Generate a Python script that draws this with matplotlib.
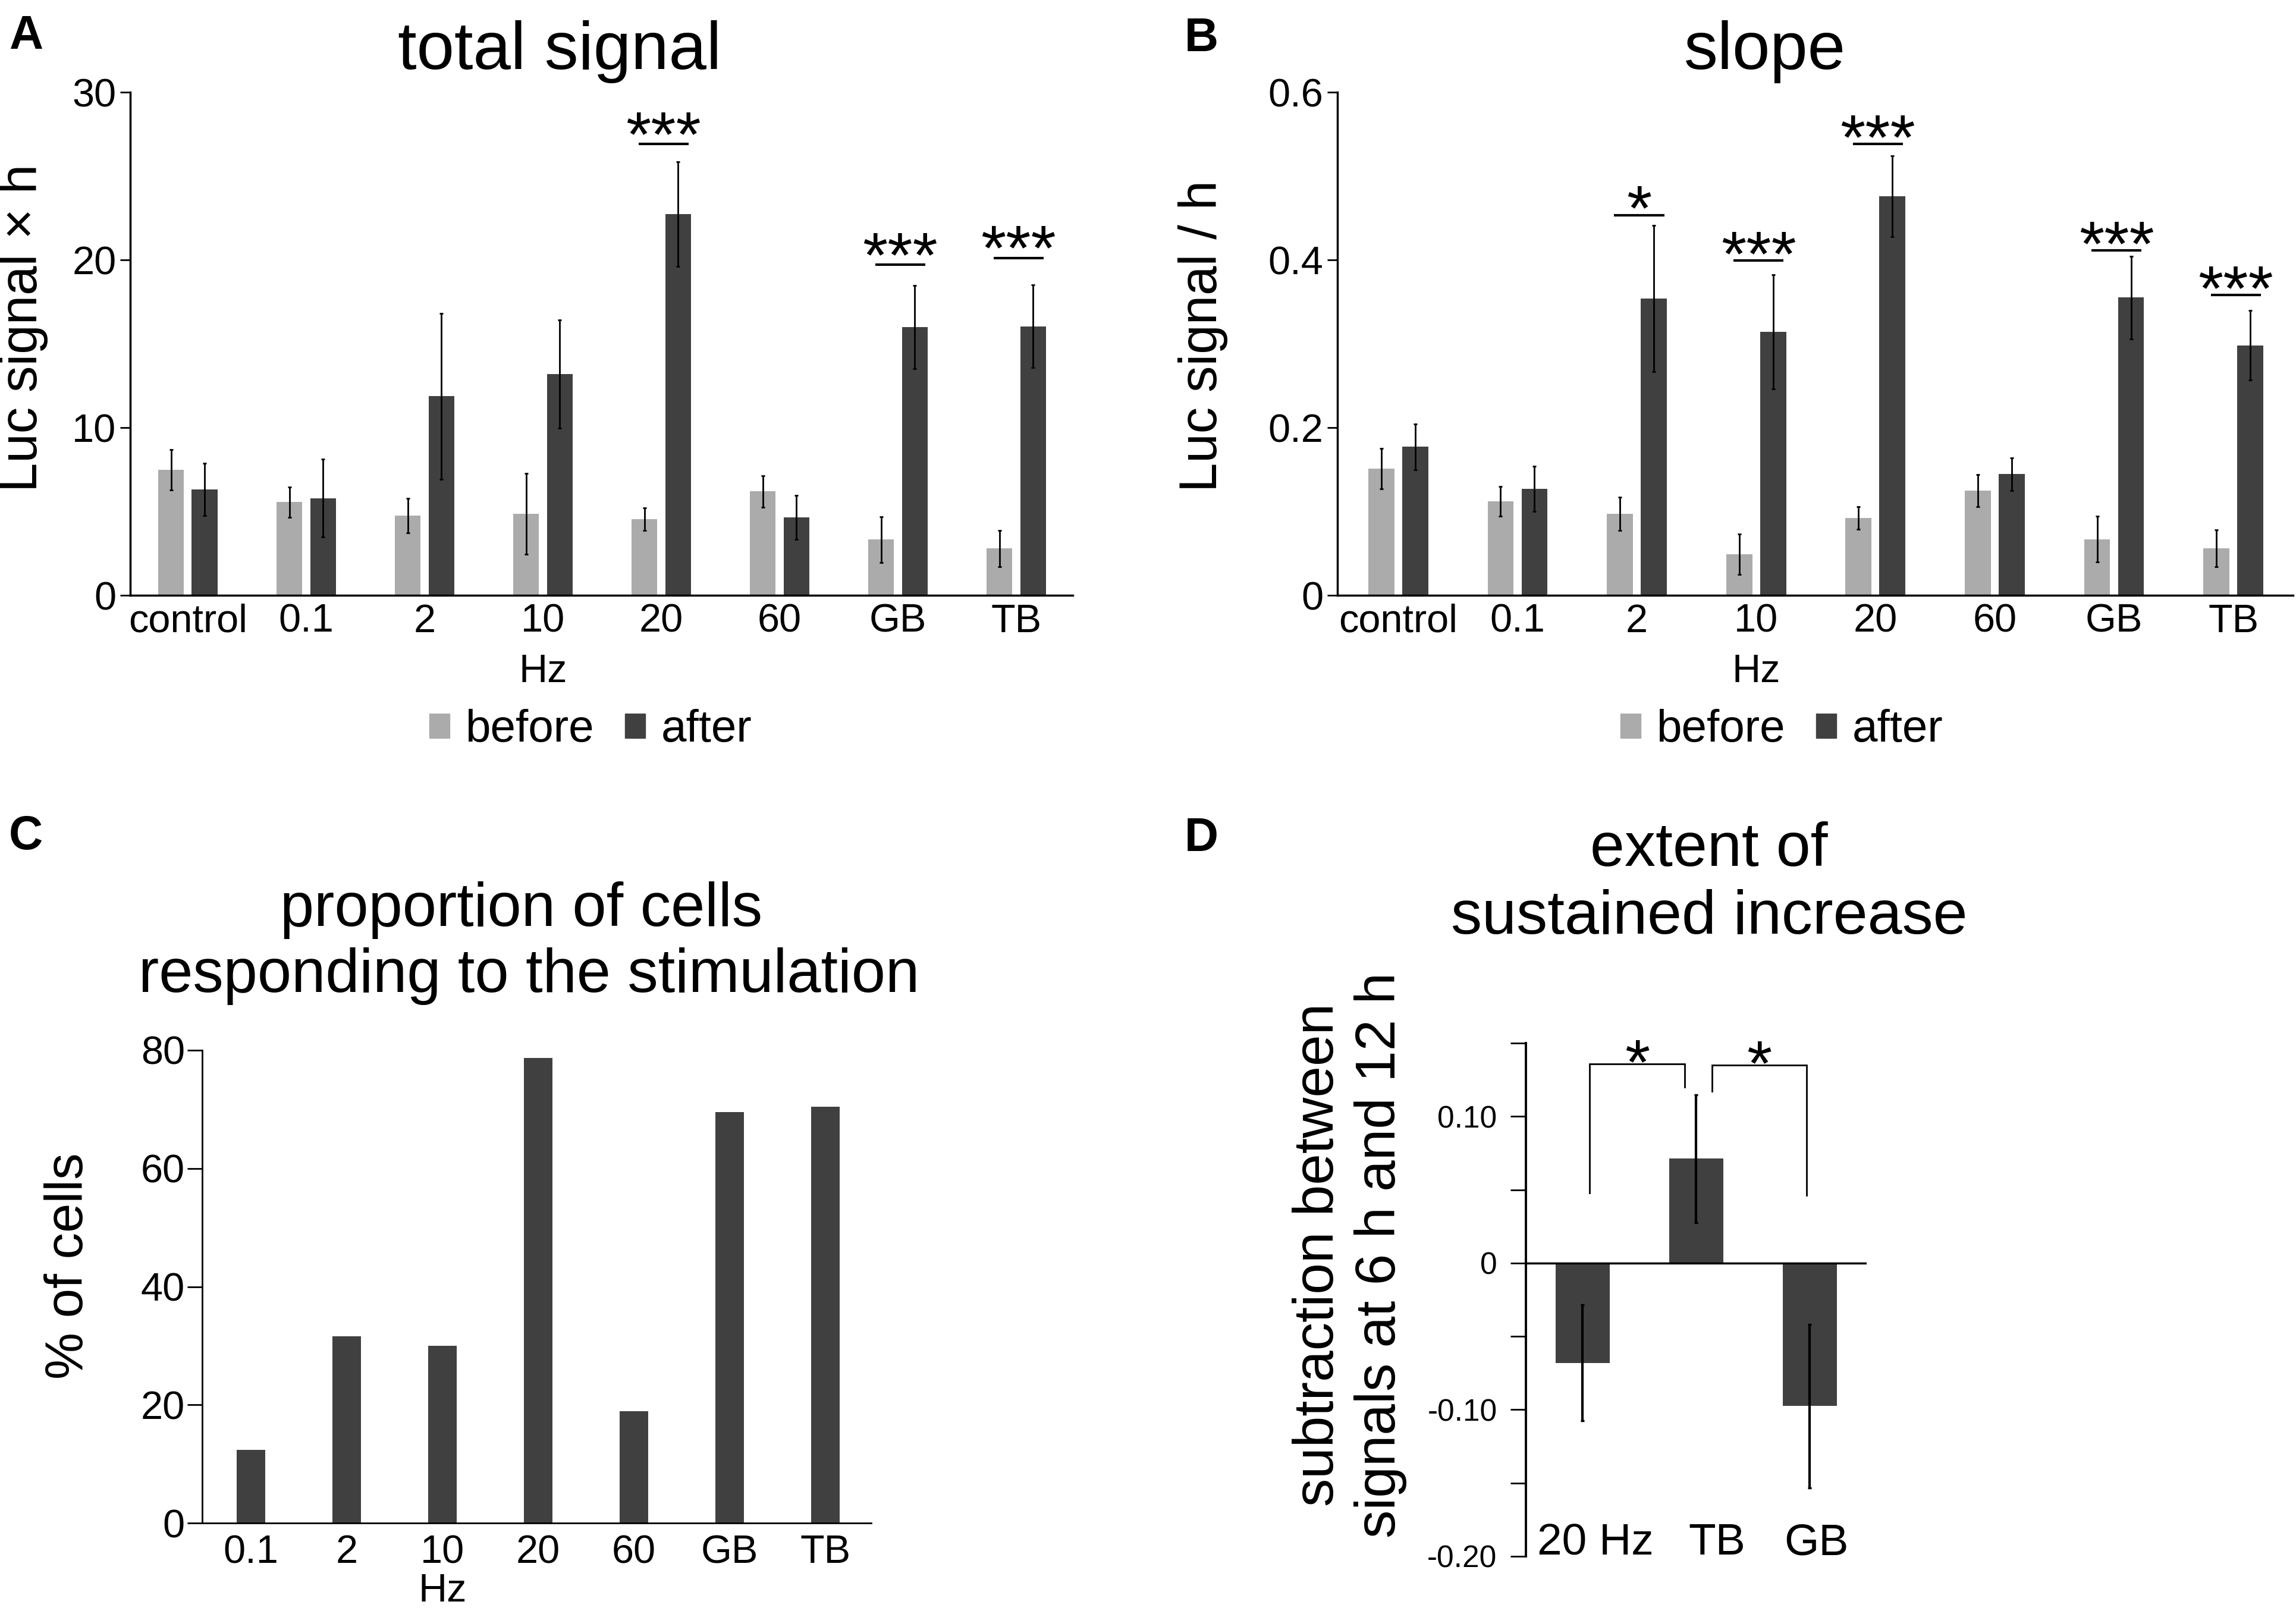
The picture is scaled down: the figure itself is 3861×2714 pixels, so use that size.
import matplotlib
matplotlib.use('Agg')
import matplotlib.pyplot as plt
from matplotlib.patches import Patch
from matplotlib.transforms import blended_transform_factory
from matplotlib.textpath import TextPath
from matplotlib.font_manager import FontProperties
import numpy as np

plt.rcParams['font.family'] = ['Liberation Sans', 'DejaVu Sans']

# ---------------- data ----------------
groups = ['control', '0.1', '2', '10', '20', '60', 'GB', 'TB']

total_before = [7.49, 5.55, 4.76, 4.85, 4.55, 6.20, 3.32, 2.79]
total_before_err = [1.20, 0.90, 1.03, 2.41, 0.68, 0.94, 1.37, 1.09]
total_after = [6.32, 5.79, 11.87, 13.19, 22.72, 4.64, 15.99, 16.04]
total_after_err = [1.57, 2.33, 4.94, 3.22, 3.12, 1.30, 2.47, 2.47]
total_sig_idx = [4, 6, 7]
total_sig_lab = ['***', '***', '***']
total_sig_y = [26.9, 19.7, 20.1]

slope_before = [0.151, 0.112, 0.097, 0.049, 0.092, 0.125, 0.067, 0.056]
slope_before_err = [0.024, 0.018, 0.020, 0.024, 0.0135, 0.019, 0.027, 0.022]
slope_after = [0.177, 0.127, 0.354, 0.314, 0.476, 0.1445, 0.355, 0.298]
slope_after_err = [0.027, 0.027, 0.087, 0.068, 0.048, 0.0195, 0.049, 0.0415]
slope_sig_idx = [2, 3, 4, 6, 7]
slope_sig_lab = ['*', '***', '***', '***', '***']
slope_sig_y = [0.4535, 0.399, 0.538, 0.411, 0.358]

prop_cats = ['0.1', '2', '10', '20', '60', 'GB', 'TB']
prop_vals = [12.4, 31.6, 30.0, 78.7, 18.9, 69.5, 70.4]

ext_cats = ['20 Hz', 'TB', 'GB']
ext_vals = [-0.068, 0.0713, -0.0975]
ext_err = [0.0397, 0.0436, 0.0557]

# ---------------- figure ----------------
W, H = 3862, 2714
fig = plt.figure(figsize=(W / 100, H / 100), dpi=100)


def fx(px):
    return px / W


def fy(py):
    return 1 - py / H


def rect(l, t, r, b):
    return [fx(l), fy(b), fx(r) - fx(l), fy(t) - fy(b)]


BEFORE = '#ababab'
AFTER = '#404040'
TICK_FS = 48
LABEL_FS = 64
TITLE_FS = 82
STAR_FS = 78
ekw = dict(ecolor='black', elinewidth=2.0, capsize=2, capthick=2.0)

# vertical centre of the asterisk glyph (in em) to place stars precisely
_bb = TextPath((0, 0), '*', size=1,
               prop=FontProperties(family='Liberation Sans')).get_extents()
STAR_CENTER_EM = (_bb.y0 + _bb.y1) / 2


def star_offset(center_above_pt, fs=STAR_FS):
    return center_above_pt - STAR_CENTER_EM * fs


def paired_panel(r, before, berr, after, aerr, ylim, yticks, yticklabels,
                 sig_idx, sig_lab, sig_y, xlim, star_gap):
    ax = fig.add_axes(r)
    x = np.arange(len(groups))
    off, w = 0.142, 0.218
    ax.bar(x - off, before, w, color=BEFORE, yerr=berr, error_kw=ekw)
    ax.bar(x + off, after, w, color=AFTER, yerr=aerr, error_kw=ekw)
    ax.set_xlim(*xlim)
    ax.set_ylim(*ylim)
    for s in ['top', 'right']:
        ax.spines[s].set_visible(False)
    for s in ['left', 'bottom']:
        ax.spines[s].set_linewidth(2.5)
    ax.set_xticks(x)
    ax.set_xticklabels(groups, fontsize=TICK_FS)
    ax.tick_params(axis='x', length=0, pad=10)
    ax.set_yticks(yticks)
    ax.set_yticklabels(yticklabels, fontsize=TICK_FS)
    ax.tick_params(axis='y', length=12, width=2, pad=5)
    for i, lab, yv in zip(sig_idx, sig_lab, sig_y):
        ax.plot([i - 0.19, i + 0.23], [yv, yv], color='black', lw=3,
                solid_capstyle='butt')
        ax.annotate(lab, (i + 0.02, yv), xytext=(0, star_offset(star_gap)),
                    textcoords='offset points', ha='center', va='baseline',
                    fontsize=STAR_FS)
    tr = blended_transform_factory(ax.transData, ax.transAxes)
    ax.text(3, -0.152, 'Hz', transform=tr, ha='center', va='center',
            fontsize=TICK_FS)
    return ax


# Panel A
axA = paired_panel(rect(219, 155, 1804, 1001), total_before, total_before_err,
                   total_after, total_after_err, (0, 30), [0, 10, 20, 30],
                   ['0', '10', '20', '30'], total_sig_idx, total_sig_lab,
                   total_sig_y, (-0.487, 7.477), 26)
# Panel B
axB = paired_panel(rect(2249, 155, 3856, 1001), slope_before, slope_before_err,
                   slope_after, slope_after_err, (0, 0.6), [0, 0.2, 0.4, 0.6],
                   ['0', '0.2', '0.4', '0.6'], slope_sig_idx, slope_sig_lab,
                   slope_sig_y, (-0.51, 7.5), 22)

# Panel C
axC = fig.add_axes(rect(340, 1766, 1465, 2561))
xc = np.arange(len(prop_cats))
axC.bar(xc, prop_vals, 0.30, color=AFTER)
axC.set_xlim(-0.51, 6.48)
axC.set_ylim(0, 80)
for s in ['top', 'right']:
    axC.spines[s].set_visible(False)
for s in ['left', 'bottom']:
    axC.spines[s].set_linewidth(2.0)
axC.set_xticks(xc)
axC.set_xticklabels(prop_cats, fontsize=TICK_FS)
axC.tick_params(axis='x', length=0, pad=14)
axC.set_yticks([0, 20, 40, 60, 80])
axC.set_yticklabels(['0', '20', '40', '60', '80'], fontsize=TICK_FS)
axC.tick_params(axis='y', length=18, width=2, pad=3)
trC = blended_transform_factory(axC.transData, axC.transAxes)
axC.text(2, -0.145, 'Hz', transform=trC, ha='center', va='center',
         fontsize=TICK_FS)

# Panel D
axD = fig.add_axes(rect(2566, 1754, 3139, 2617))
xd = np.arange(len(ext_cats))
axD.bar(xd, ext_vals, 0.48, color=AFTER, yerr=ext_err,
        error_kw=dict(ecolor='black', elinewidth=3.0, capsize=2, capthick=2.5))
axD.set_xlim(-0.5, 2.5)
axD.set_ylim(-0.20, 0.15)
axD.axhline(0, color='black', lw=2.5)
for s in ['top', 'right', 'bottom']:
    axD.spines[s].set_visible(False)
axD.spines['left'].set_linewidth(2.8)
axD.set_xticks([])
dt = [-0.20, -0.15, -0.10, -0.05, 0, 0.05, 0.10, 0.15]
axD.set_yticks(dt)
axD.set_yticklabels(['-0.20', '', '-0.10', '', '0', '', '0.10', ''],
                    fontsize=37)
axD.tick_params(axis='y', length=19, width=2, pad=16)
for xi, lab, dx in zip(xd, ext_cats, [0.11, 0.18, 0.06]):
    axD.text(xi + dx, -0.191, lab, ha='center', va='center', fontsize=54)
# significance brackets
brackets = [(0.06, 0.90, 0.048, 0.136, 0.120), (1.14, 1.97, 0.117, 0.135, 0.046)]
for x0, x1, yl, yt, yr in brackets:
    axD.plot([x0, x0, x1, x1], [yl, yt, yt, yr], color='black', lw=2.0,
             solid_joinstyle='miter')
    axD.annotate('*', ((x0 + x1) / 2, yt), xytext=(0, star_offset(16)),
                 textcoords='offset points', ha='center', va='baseline',
                 fontsize=STAR_FS)

# ---------------- titles & labels ----------------
fig.text(fx(941), fy(116), 'total signal', ha='center', va='baseline',
         fontsize=TITLE_FS)
fig.text(fx(2968), fy(116), 'slope', ha='center', va='baseline',
         fontsize=TITLE_FS)
fig.text(fx(877), fy(1557), 'proportion of cells', ha='center',
         va='baseline', fontsize=74)
fig.text(fx(890), fy(1668), 'responding to the stimulation', ha='center',
         va='baseline', fontsize=74)
fig.text(fx(2874), fy(1456), 'extent of', ha='center', va='baseline',
         fontsize=75)
fig.text(fx(2874), fy(1570), 'sustained increase', ha='center',
         va='baseline', fontsize=75)

fig.text(fx(39), fy(551), 'Luc signal × h', rotation=90, ha='center',
         va='center', fontsize=LABEL_FS)
fig.text(fx(2023), fy(565), 'Luc signal / h', rotation=90, ha='center',
         va='center', fontsize=LABEL_FS)
fig.text(fx(116), fy(2129), '% of cells', rotation=90, ha='center',
         va='center', fontsize=LABEL_FS)
fig.text(fx(2218), fy(2110), 'subtraction between', rotation=90, ha='center',
         va='center', fontsize=68)
fig.text(fx(2321), fy(2110), 'signals at 6 h and 12 h', rotation=90,
         ha='center', va='center', fontsize=68)

for lab, px, py in [('A', 44, 53), ('B', 2020, 57), ('C', 43, 1399),
                    ('D', 2020, 1402)]:
    fig.text(fx(px), fy(py), lab, ha='center', va='center_baseline',
             fontsize=57, fontweight='bold')

# legends
for cx in [993, 2996]:
    fig.legend(handles=[Patch(color=BEFORE, label='before'),
                        Patch(color=AFTER, label='after')],
               loc='center', bbox_to_anchor=(fx(cx), fy(1228)), ncol=2,
               frameon=False, fontsize=55, handlelength=0.45,
               handleheight=0.45, handletextpad=0.34, columnspacing=0.68,
               borderpad=0, borderaxespad=0)

fig.savefig('out.png', dpi=100)
